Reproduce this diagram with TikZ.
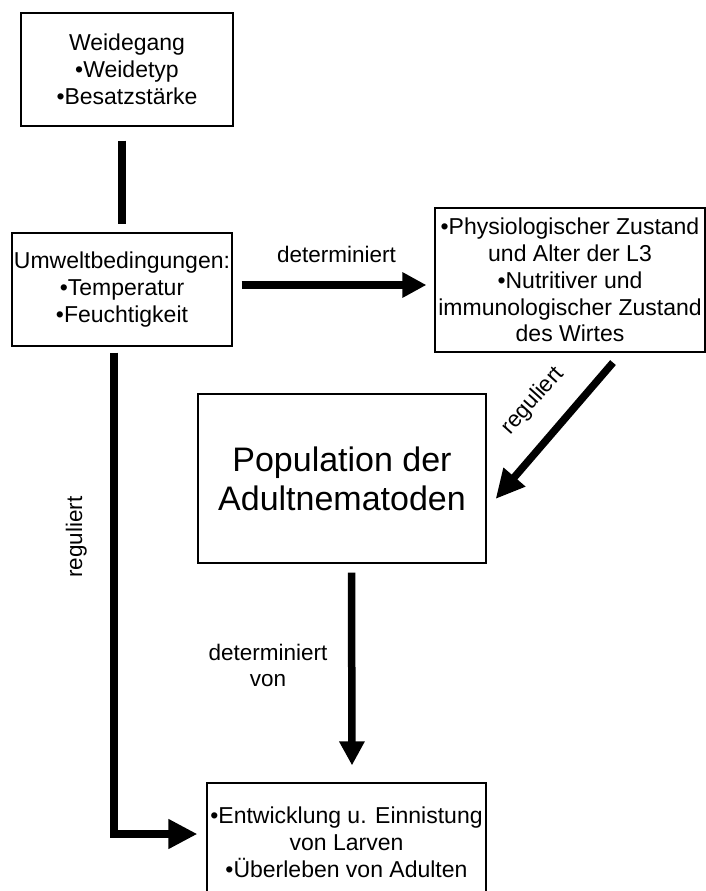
\documentclass[tikz,border=0pt]{standalone}
\usepackage{fontspec}
\setmainfont{Liberation Sans}
\usetikzlibrary{arrows.meta,calc}
\begin{document}
\begin{tikzpicture}[x=1pt,y=-1pt,
  box/.style={draw=black, line width=1.2pt, inner sep=0pt, align=center,
    font=\fontsize{23}{26.8}\selectfont},
  conn/.style={line width=7.5pt, line cap=butt, line join=miter},
  arr/.style={conn, -{Triangle[length=26pt,width=25pt]}},
  lbl/.style={font=\fontsize{22.5}{26}\selectfont, align=center, inner sep=0pt}]
\useasboundingbox (0,0) rectangle (706,891);
\fill[white] (0,0) rectangle (706,891);

% boxes
\node[box, minimum width=212pt, minimum height=113pt] (W) at (127,69.5)
  {Weidegang\\•Weidetyp\\•Besatzstärke};
\node[box, minimum width=220pt, minimum height=113pt] (U) at (122,289.5)
  {Umweltbedingungen:\\•Temperatur\\•Feuchtigkeit};
\node[box, minimum width=270pt, minimum height=144pt] (P) at (570,280)
  {•Physiologischer Zustand\\und Alter der L3\\•Nutritiver und\\immunologischer Zustand\\des Wirtes};
\node[box, minimum width=288pt, minimum height=169pt,
  font=\fontsize{34}{39}\selectfont] (Pop) at (342,478.5)
  {Population der\\Adultnematoden};
\node[box, minimum width=279pt, minimum height=118pt] (E) at (346.5,842)
  {•Entwicklung u. Einnistung\\von Larven\\•Überleben von Adulten};

% connectors
\draw[conn, shorten <=14pt, shorten >=8pt] (U.north |- W.south) -- (U.north);
\draw[arr, -{Triangle[length=24pt,width=24pt]}, shorten <=9pt, shorten >=8pt]
  ($(U.east)+(0,-4.5)$) -- ($(P.west |- U.east)+(0,-4.5)$);
\draw[arr, -{Triangle[length=29pt,width=27pt]}]
  ($(P.south)+(43,10)$) -- ($(Pop.east)+(9,20.5)$);
\draw[arr, -{Triangle[length=29pt,width=28pt]}]
  ($(U.south)+(-8,6)$) |- ($(E.west)+(-9,-8)$);
\draw[arr, -{Triangle[length=24pt,width=24pt]}]
  ($(Pop.south)+(9.5,9)$) -- ($(E.north)+(5.5,-17)$);

% labels
\node[lbl, anchor=base] (l1) at (336.5,262) {determiniert};
\node[lbl, anchor=base, rotate=90] (l2) at (82,537) {reguliert};
\node[lbl, rotate=48] (l3) at (533,401) {reguliert};
\node[lbl] (l4) at (268,665) {determiniert\\von};
\end{tikzpicture}
\end{document}
